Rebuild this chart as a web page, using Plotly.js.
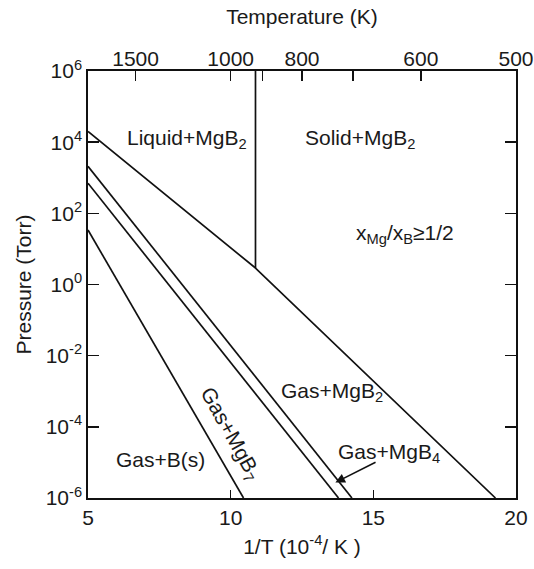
<!DOCTYPE html>
<html>
<head>
<meta charset="utf-8">
<script src="https://cdn.plot.ly/plotly-3.0.1.min.js"></script>
<style>html,body{margin:0;padding:0;background:#fff;}</style>
</head>
<body>
<div id="chart" style="width:534px;height:569px;"></div>
<script>
// Mg vapour boundary (liquid / solid Mg + MgB2 vs gas)
const mgInvT = [5, 10.87, 19.28];
const mgP = [2.0e4, 2.9, 1e-6];
// Mg melting point line
const meltInvT = [10.87, 10.87];
const meltP = [1e6, 2.9];
// MgB2 / MgB4 boundary
const b2InvT = [5, 14.25];
const b2P = [2.1e3, 1e-6];
// MgB4 / MgB7 boundary
const b4InvT = [5, 13.78];
const b4P = [7.0e2, 1e-6];
// MgB7 / B boundary
const b7InvT = [5, 10.45];
const b7P = [34, 1e-6];

// Axis tick data
const xTicks = [5, 10, 15, 20];
const yTickExp = [-6, -4, -2, 0, 2, 4, 6];
const tempTicks = [1500, 1000, 900, 800, 700, 600, 500];
const tempLabels = ["1500", "1000", "", "800", "", "600", "500"];

const lineStyle = {color: '#111', width: 1.7};
const mk = (x, y) => ({x: x, y: y, mode: 'lines', line: lineStyle, hoverinfo: 'skip', showlegend: false, xaxis: 'x', yaxis: 'y'});

const traces = [
  mk(mgInvT, mgP), mk(meltInvT, meltP), mk(b2InvT, b2P), mk(b4InvT, b4P), mk(b7InvT, b7P),
  {x: [5, 20], y: [1e-6, 1e-6], mode: 'lines', line: {width: 0}, opacity: 0, hoverinfo: 'skip', showlegend: false, xaxis: 'x2', yaxis: 'y'}
];

const fontFam = 'Liberation Sans, Arial, Helvetica, sans-serif';
const txtColor = '#1a1a1a';
const FS = 21;

const ann = (x, ly, text, extra) => Object.assign({
  x: x, y: ly, xref: 'x', yref: 'y', text: text, showarrow: false,
  font: {family: fontFam, size: FS, color: txtColor}
}, extra || {});

const annotations = [
  ann(8.47, 4.10, 'Liquid+MgB<sub>2</sub>'),
  ann(14.54, 4.08, 'Solid+MgB<sub>2</sub>'),
  ann(16.12, 1.42, 'x<sub>Mg</sub>/x<sub>B</sub>≥1/2'),
  ann(13.54, -3.02, 'Gas+MgB<sub>2</sub>'),
  ann(15.54, -4.73, 'Gas+MgB<sub>4</sub>'),
  ann(7.53, -4.93, 'Gas+B(s)'),
  ann(9.98, -4.2, 'Gas+MgB<sub>7</sub>', {textangle: 61}),
  {x: 13.67, y: -5.565, xref: 'x', yref: 'y', ax: 15.13, ay: -4.975, axref: 'x', ayref: 'y',
   text: '', showarrow: true, arrowhead: 2, arrowsize: 1.2, arrowwidth: 1.6, arrowcolor: '#111'}
];

const layout = {
  width: 534, height: 569,
  margin: {l: 88, r: 18, t: 71, b: 71},
  paper_bgcolor: '#fff', plot_bgcolor: '#fff',
  font: {family: fontFam, size: FS, color: txtColor},
  xaxis: {
    range: [5, 20], tickvals: xTicks, ticktext: xTicks.map(String),
    ticks: 'inside', ticklen: 8, tickwidth: 1.5, tickcolor: '#111',
    showline: true, linecolor: '#111', linewidth: 1.7, mirror: true,
    showgrid: false, zeroline: false,
    tickfont: {size: FS},
    title: {text: '1/T (10<sup>-4</sup>/ K )', font: {size: FS}, standoff: 11}
  },
  xaxis2: {
    overlaying: 'x', side: 'top', anchor: 'y', range: [5, 20],
    tickvals: tempTicks.map(T => 1e4 / T), ticktext: tempLabels,
    ticks: 'inside', ticklen: 10, tickwidth: 1.5, tickcolor: '#111',
    showline: false, showgrid: false, zeroline: false,
    tickfont: {size: FS},
    title: {text: 'Temperature (K)', font: {size: FS}, standoff: 16}
  },
  yaxis: {
    type: 'log', range: [-6, 6],
    tickvals: yTickExp.map(e => Math.pow(10, e)),
    ticktext: yTickExp.map(e => '10<sup>' + e + '</sup>'),
    ticks: 'inside', ticklen: 11, tickwidth: 1.5, tickcolor: '#111',
    showline: true, linecolor: '#111', linewidth: 1.7, mirror: 'ticks',
    showgrid: false, zeroline: false,
    tickfont: {size: FS},
    title: {text: 'Pressure (Torr)', font: {size: FS}, standoff: 8}
  },
  annotations: annotations
};

Plotly.newPlot('chart', traces, layout, {displayModeBar: false, staticPlot: true});
</script>
</body>
</html>
